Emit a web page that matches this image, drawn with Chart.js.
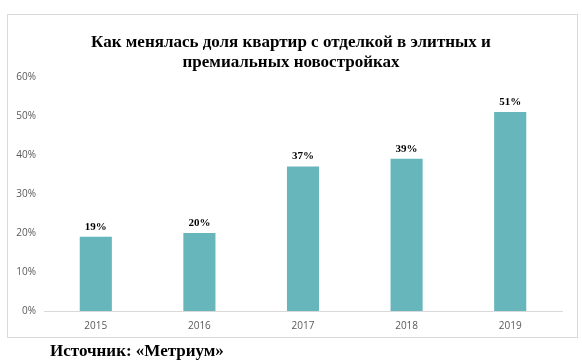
<!DOCTYPE html>
<html>
<head>
<meta charset="utf-8">
<script src="https://cdn.jsdelivr.net/npm/chart.js@4"></script>
<style>
  html, body { margin: 0; padding: 0; background: #ffffff; }
  #wrap { width: 582px; height: 363px; position: relative; }
</style>
</head>
<body>
<div id="wrap"><canvas id="c" width="582" height="363"></canvas></div>
<script>
const categories = ["2015", "2016", "2017", "2018", "2019"];
const shareValues = [19, 20, 37, 39, 51];
const titleLines = ["Как менялась доля квартир с отделкой в элитных и", "премиальных новостройках"];
const sourceText = "Источник: «Метриум»";

const framePlugin = {
  id: 'frame',
  beforeDraw(chart) {
    const ctx = chart.ctx;
    ctx.save();
    ctx.fillStyle = '#ffffff';
    ctx.fillRect(0, 0, chart.width, chart.height);
    ctx.strokeStyle = '#d9d9d9';
    ctx.lineWidth = 1;
    ctx.strokeRect(7.5, 14.5, 570, 323);
    ctx.restore();
  },
  afterDraw(chart) {
    const ctx = chart.ctx;
    ctx.save();
    ctx.fillStyle = '#000000';
    ctx.font = 'bold 17px "Liberation Serif", "Times New Roman", serif';
    ctx.textAlign = 'left';
    ctx.textBaseline = 'middle';
    ctx.fillText(sourceText, 50, 352);
    ctx.restore();
  }
};

const labelPlugin = {
  id: 'barLabels',
  afterDatasetsDraw(chart) {
    const ctx = chart.ctx;
    const meta = chart.getDatasetMeta(0);
    ctx.save();
    ctx.fillStyle = '#000000';
    ctx.font = 'bold 11px "Liberation Serif", "Times New Roman", serif';
    ctx.textAlign = 'center';
    ctx.textBaseline = 'middle';
    meta.data.forEach((bar, i) => {
      ctx.fillText(shareValues[i] + '%', bar.x, bar.y - 10);
    });
    ctx.restore();
  }
};

new Chart(document.getElementById('c'), {
  type: 'bar',
  data: {
    labels: categories,
    datasets: [{
      data: shareValues,
      backgroundColor: '#66b6bc',
      barPercentage: 0.62,
      categoryPercentage: 0.5
    }]
  },
  options: {
    responsive: false,
    animation: false,
    layout: { padding: { left: 0, right: 0, top: 0, bottom: 0 } },
    plugins: {
      legend: { display: false },
      tooltip: { enabled: false },
      title: {
        display: true,
        text: titleLines,
        color: '#000000',
        font: { family: '"Liberation Serif", "Times New Roman", serif', size: 17, weight: 'bold', lineHeight: 1.2 },
        padding: { top: 32, bottom: 4 }
      }
    },
    scales: {
      x: {
        grid: { display: false, drawTicks: false },
        border: { display: true, color: '#d9d9d9', width: 1 },
        ticks: { color: '#595959', font: { family: '"Open Sans", "Liberation Sans", sans-serif', size: 10 }, padding: 9 },
        afterFit(scale) { scale.height = 52; }
      },
      y: {
        min: 0, max: 60,
        grid: { display: false, drawTicks: false },
        border: { display: false },
        ticks: {
          stepSize: 10,
          color: '#595959',
          font: { family: '"Open Sans", "Liberation Sans", sans-serif', size: 10 },
          padding: 8,
          callback: v => v + '%'
        },
        afterFit(scale) { scale.width = 44; }
      },
      yRight: {
        position: 'right',
        min: 0, max: 60,
        grid: { display: false, drawTicks: false },
        border: { display: false },
        ticks: { display: false },
        afterFit(scale) { scale.width = 20; }
      }
    }
  },
  plugins: [framePlugin, labelPlugin]
});
</script>
</body>
</html>
